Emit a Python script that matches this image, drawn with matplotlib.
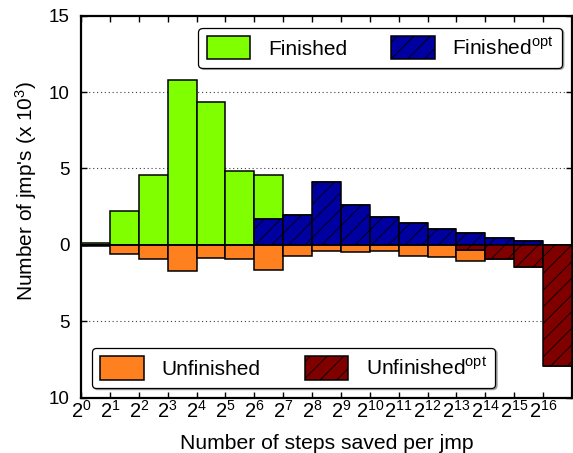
import matplotlib
matplotlib.use("Agg")
import matplotlib.pyplot as plt
import numpy as np

plt.rcParams['font.family'] = ['Liberation Sans', 'DejaVu Sans']
plt.rcParams['mathtext.fontset'] = 'custom'
plt.rcParams['mathtext.rm'] = 'Liberation Sans'
plt.rcParams['mathtext.it'] = 'Liberation Sans:italic'
plt.rcParams['hatch.linewidth'] = 0.6

# bins: 2^k .. 2^(k+1), k = 0..16
exponents = list(range(17))
finished = [0.1, 2.24, 4.57, 10.81, 9.35, 4.85, 2.89, 0, 0, 0, 0, 0, 0, 0, 0, 0, 0]
finished_opt = [0, 0, 0, 0, 0, 0, 1.66, 1.94, 4.11, 2.61, 1.79, 1.42, 1.05, 0.76, 0.42, 0.27, 0]
unfinished = [0.1, 0.6, 0.96, 1.72, 0.85, 0.94, 1.66, 0.74, 0.39, 0.46, 0.44, 0.72, 0.78, 0.72, 0, 0, 0]
unfinished_opt = [0, 0, 0, 0, 0, 0, 0, 0, 0, 0, 0, 0, 0, 0.33, 0.95, 1.47, 7.95]

yticks = [15, 10, 5, 0, -5, -10]
ytick_labels = ['15', '10', '5', '0', '5', '10']

c_fin = '#80ff00'
c_fin_opt = '#0000a0'
c_unf = '#ff801e'
c_unf_opt = '#800000'

fig = plt.figure(figsize=(5.73, 4.53), dpi=100)
ax = fig.add_axes([81 / 573, 1 - 397.5 / 453, (572 - 81) / 573, (397.5 - 15.7) / 453])

fin_opt = np.array(finished_opt)
unf_opt = np.array(unfinished_opt)

b1 = ax.bar(exponents, finished, width=1, align='edge', bottom=fin_opt,
            color=c_fin, edgecolor='black', linewidth=1.1, zorder=3)
b2 = ax.bar(exponents, finished_opt, width=1, align='edge',
            color=c_fin_opt, edgecolor='black', linewidth=1.1, hatch='//', zorder=3)
b3 = ax.bar(exponents, -np.array(unfinished), width=1, align='edge', bottom=-unf_opt,
            color=c_unf, edgecolor='black', linewidth=1.1, zorder=3)
b4 = ax.bar(exponents, -unf_opt, width=1, align='edge',
            color=c_unf_opt, edgecolor='black', linewidth=1.1, hatch='//', zorder=3)

ax.set_xlim(0, 17)
ax.set_ylim(-10, 15)

ax.set_xticks(exponents)
ax.set_xticklabels([r'$\mathregular{2^{%d}}$' % e for e in exponents], fontsize=14.5)
ax.set_yticks(yticks)
ax.set_yticklabels(ytick_labels, fontsize=13.5)

ax.tick_params(axis='both', direction='in', length=4, width=1, top=True, right=True)
ax.tick_params(axis='x', pad=2)
ax.tick_params(axis='y', pad=8)

for y in [10, 5, -5]:
    ax.axhline(y, color='0.25', linestyle=(0, (1, 2.5)), linewidth=0.8, zorder=1)

for s in ax.spines.values():
    s.set_linewidth(1.6)

ax.set_xlabel('Number of steps saved per jmp', fontsize=15.2)
ax.set_ylabel(r"Number of jmp's (x 10$^{3}$)", fontsize=15)
ax.xaxis.set_label_coords(0.5, -0.095)
ax.yaxis.set_label_coords(-0.086, 0.54)

leg_kw = dict(ncol=2, fontsize=15, fancybox=True, framealpha=1, edgecolor='black',
              handlelength=2.1, handleheight=1.35, handletextpad=0.85,
              columnspacing=2.1, borderpad=0.4, borderaxespad=0,
              shadow={'ox': 1.2, 'oy': -1.2, 'color': '0.55', 'alpha': 0.7})
leg1 = ax.legend([b1, b2], ['Finished', r'Finished$^{\mathregular{opt}}$'],
                 loc='upper right', bbox_to_anchor=(0.98, 0.9686), **leg_kw)
leg1.get_frame().set_linewidth(0.9)
ax.add_artist(leg1)
leg2 = ax.legend([b3, b4], ['Unfinished', r'Unfinished$^{\mathregular{opt}}$'],
                 loc='lower left', bbox_to_anchor=(0.0224, 0.0249), **leg_kw)
leg2.get_frame().set_linewidth(0.9)
leg1.set_zorder(5)
leg2.set_zorder(5)

fig.savefig('out.png', dpi=100)
